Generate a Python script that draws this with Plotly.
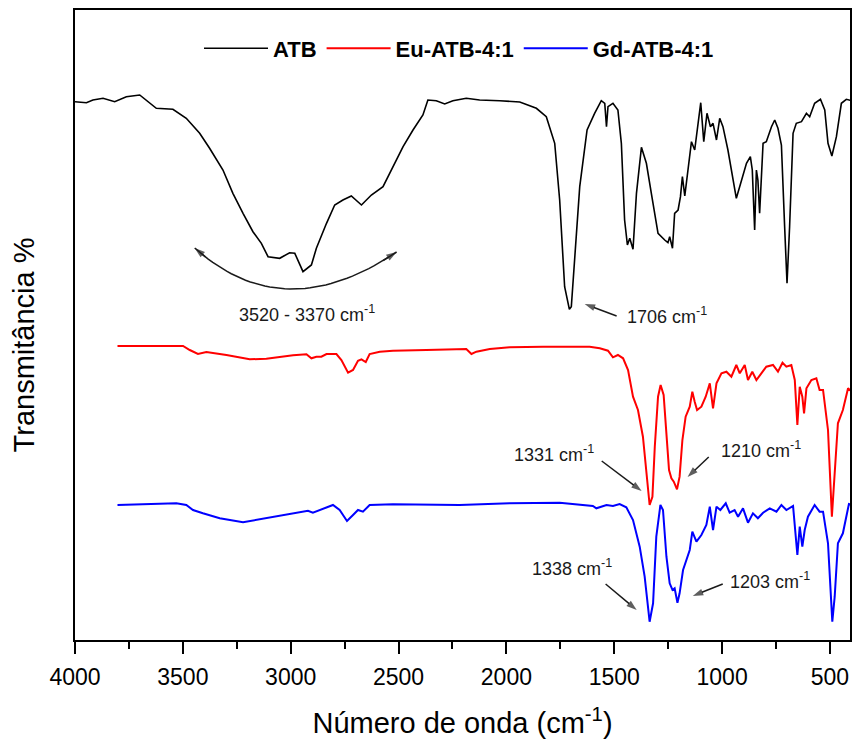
import plotly.graph_objects as go

# ---------------- data ----------------
atb_wn = [4000, 3947, 3917, 3870, 3816, 3762, 3700, 3662, 3623, 3546, 3484, 3422, 3376, 3314,
          3268, 3221, 3175, 3136, 3105, 3051, 3005, 2981, 2943, 2904, 2881, 2834, 2796, 2758,
          2719, 2672, 2626, 2572, 2526, 2479, 2433, 2387, 2364, 2325, 2286, 2248, 2186, 2124,
          2031, 1938, 1861, 1815, 1776, 1753, 1730, 1708, 1699, 1683, 1660, 1626, 1591, 1560,
          1544, 1536, 1529, 1506, 1483, 1467, 1452, 1439, 1428, 1413, 1397, 1374, 1351, 1328,
          1297, 1266, 1251, 1243, 1230, 1220, 1204, 1193, 1184, 1173, 1158, 1142, 1127, 1112,
          1099, 1085, 1070, 1054, 1042, 1026, 1011, 996, 973, 934, 887, 869, 860, 849, 841,
          834, 826, 810, 795, 771, 756, 741, 725, 710, 699, 687, 671, 656, 632, 609, 594, 571,
          544, 524, 509, 491, 470, 447, 424, 400]
atb_t = [538.3, 537.3, 540, 541.7, 538.3, 543.3, 545, 538.3, 531.7, 530.7, 521.7, 506.7, 491.7, 470,
         446.7, 426.7, 408.3, 396.7, 383.3, 381.7, 387.3, 386.7, 368.3, 375, 391.7, 416.7, 435, 440,
         444, 435, 445, 453.3, 473.3, 493.3, 510, 525, 540, 539.3, 536, 539.3, 541.7, 540,
         539.3, 538, 531.7, 523.3, 496.7, 440, 353.3, 330.7, 333.3, 380, 453.3, 510, 526.7, 539.3,
         536.7, 513.3, 533.3, 536.7, 530, 496.7, 420, 395, 401.7, 390.7, 446.7, 492.7, 476.7, 446.7,
         406.7, 400, 397.3, 403.3, 391.7, 426.7, 430, 443.3, 463.3, 444, 473.3, 498.3, 490, 516.7,
         537.3, 498.3, 526.7, 513.3, 516.7, 500, 521.7, 513.3, 490, 441.7, 476.7, 483.3, 470, 410, 470,
         460, 426.7, 496.7, 498.3, 513.3, 520, 511.7, 495, 413.3, 356.7, 413.3, 506.7, 516.7, 518.3, 526.7, 523.3, 536.7,
         540.7, 530, 496.7, 484, 503.3, 536.7, 540.7, 539.3]

eu_wn = [3803, 3499, 3468, 3430, 3391, 3298, 3190, 3113, 2989, 2927, 2904, 2881, 2858, 2834,
         2788, 2765, 2734, 2711, 2688, 2672, 2652, 2634, 2587, 2526, 2371, 2186, 2162, 2139,
         2077, 1985, 1830, 1614, 1567, 1529, 1506, 1483, 1459, 1436, 1413, 1390, 1367, 1351,
         1336, 1323, 1312, 1297, 1285, 1271, 1258, 1246, 1235, 1224, 1209, 1197, 1184, 1169,
         1150, 1138, 1127, 1116, 1096, 1076, 1057, 1042, 1026, 1003, 980, 957, 934, 918, 895,
         880, 860, 841, 818, 795, 764, 741, 720, 702, 679, 663, 651, 640, 628, 620, 609, 586,
         563, 548, 532, 509, 491, 478, 463, 440, 416, 400]
eu_t = [294, 294, 290, 286, 288, 285, 280.7, 281.3, 284.7, 285.7, 281.7, 283.3, 283.3, 286,
        286, 280, 267.3, 270, 279.3, 280.7, 278, 286, 288.3, 289.3, 290, 291, 286, 288.3,
        291, 292.7, 293.3, 293.3, 291.7, 289.3, 282.7, 285, 281.7, 270, 243.3, 230, 203.3, 170,
        135, 143.3, 193.3, 243.3, 255, 245, 210, 170, 161.7, 158.3, 150.7, 163.3, 200, 223.3,
        233.3, 248.3, 238.3, 230, 233.3, 243.3, 256.7, 231.7, 256.7, 266.7, 268.3, 263.3, 275, 266.7, 275,
        260, 268.3, 260, 266.7, 273.3, 275, 268.3, 277.3, 273.3, 275, 260, 215, 253.3, 243.3, 226.7, 251.7, 260,
        261.7, 250, 250, 210, 123.3, 170, 216.7, 230, 251.7, 248.3]

gd_wn = [3803, 3530, 3484, 3453, 3407, 3329, 3221, 3113, 2989, 2920, 2897, 2866, 2804, 2773,
         2739, 2711, 2688, 2665, 2634, 2526, 2217, 1985, 1753, 1599, 1583, 1536, 1506, 1475,
         1444, 1413, 1382, 1359, 1336, 1320, 1305, 1286, 1274, 1258, 1243, 1230, 1220, 1207,
         1197, 1181, 1158, 1150, 1138, 1119, 1096, 1073, 1057, 1042, 1026, 1008, 983, 965, 942,
         926, 903, 880, 857, 834, 810, 779, 748, 725, 702, 671, 651, 640, 628, 617, 602, 571,
         548, 532, 509, 498, 489, 478, 463, 440, 412, 400]
gd_t = [135, 136.7, 135, 130, 126.7, 121.7, 117.7, 121.7, 126.7, 129.3, 127.3, 130, 135, 130,
        119, 125, 130, 128.3, 135, 135.7, 135, 136.7, 137.3, 134, 131.7, 135, 134, 136,
        132.7, 120, 93.3, 63.3, 18.3, 36.7, 103.3, 135, 130, 83.3, 56.7, 50, 51.7, 37.3,
        46.7, 70, 86.7, 90, 108.3, 98.3, 105, 115, 133.3, 110, 133.3, 130, 136.7, 127.3, 130,
        123.3, 131.7, 117.3, 126.7, 121.7, 127.3, 131.7, 128.3, 135, 130, 134, 85, 113.3, 93.3, 110, 123.3, 135,
        128.3, 128.3, 96.7, 56.7, 18.3, 43.3, 96.7, 106.7, 136, 135]

series_names = ["ATB", "Eu-ATB-4:1", "Gd-ATB-4:1"]
x_ticks = [4000, 3500, 3000, 2500, 2000, 1500, 1000, 500]

# peak labels: text, label position, arrow tail, arrow head (data coordinates)
label_text = ["1706 cm<sup>-1</sup>", "1331 cm<sup>-1</sup>", "1210 cm<sup>-1</sup>",
              "1338 cm<sup>-1</sup>", "1203 cm<sup>-1</sup>"]
label_x = [1257, 1781, 821, 1697, 779]
label_y = [325, 187, 191, 73, 60]
arrow_tail_x = [1489, 1558, 1062, 1540, 997]
arrow_tail_y = [324, 179, 183, 56, 56]
arrow_head_x = [1637, 1373, 1160, 1396, 1136]
arrow_head_y = [336, 149, 163, 30, 44]

band_text = "3520 - 3370 cm<sup>-1</sup>"
band_x, band_y = 2926, 327
arc_start = (3445, 392)
arc_ctrl = (3032, 312)
arc_end = (2509, 388)

# ---------------- figure ----------------
FONT = "Arial, Liberation Sans, sans-serif"
INK = "#1a1a1a"
fig = go.Figure()
fig.add_trace(go.Scatter(x=atb_wn, y=atb_t, mode="lines", name=series_names[0],
                         line=dict(color="black", width=1.6)))
fig.add_trace(go.Scatter(x=eu_wn, y=eu_t, mode="lines", name=series_names[1],
                         line=dict(color="#ff0000", width=2)))
fig.add_trace(go.Scatter(x=gd_wn, y=gd_t, mode="lines", name=series_names[2],
                         line=dict(color="#0000ff", width=2)))


def add_arrow(x0, y0, x1, y1):
    fig.add_trace(go.Scatter(
        x=[x0, x1], y=[y0, y1], mode="lines+markers", showlegend=False, hoverinfo="skip",
        line=dict(color=INK, width=1.5),
        marker=dict(symbol="arrow", size=[0, 11], angleref="previous", color=INK,
                    line=dict(width=0))))


for t, lx, ly, tx, ty, hx, hy in zip(label_text, label_x, label_y, arrow_tail_x,
                                     arrow_tail_y, arrow_head_x, arrow_head_y):
    fig.add_annotation(x=lx, y=ly, text=t, showarrow=False,
                       font=dict(family=FONT, size=18, color=INK))
    add_arrow(tx, ty, hx, hy)

# curved double-headed arrow under the broad band (quadratic Bezier)
def bez(t):
    a = (1 - t) ** 2
    b = 2 * (1 - t) * t
    c = t ** 2
    return (a * arc_start[0] + b * arc_ctrl[0] + c * arc_end[0],
            a * arc_start[1] + b * arc_ctrl[1] + c * arc_end[1])

ts = [i / 40 for i in range(41)]
arc_pts = [bez(t) for t in ts]
fig.add_trace(go.Scatter(x=[p[0] for p in arc_pts], y=[p[1] for p in arc_pts], mode="lines",
                         showlegend=False, hoverinfo="skip", line=dict(color=INK, width=1.5)))
p_a, p_b = bez(0.06), bez(0.94)
add_arrow(p_a[0], p_a[1], arc_start[0], arc_start[1])
add_arrow(p_b[0], p_b[1], arc_end[0], arc_end[1])
fig.add_annotation(x=band_x, y=band_y, text=band_text, showarrow=False,
                   font=dict(family=FONT, size=18, color=INK))

# y-axis title
fig.add_annotation(xref="paper", yref="paper", x=-0.066, y=0.469, text="Transmitância %",
                   textangle=-90, showarrow=False, xanchor="center", yanchor="middle",
                   font=dict(family=FONT, size=29, color="black"))

fig.update_layout(
    width=853, height=742,
    margin=dict(l=75, r=3, t=10, b=102),
    paper_bgcolor="white", plot_bgcolor="white",
    font=dict(family=FONT, color="black"),
    showlegend=True,
    legend=dict(orientation="h", x=0.16, y=0.939, xanchor="left", yanchor="middle",
                font=dict(family=FONT, size=22, color="black", weight="bold"),
                bgcolor="rgba(0,0,0,0)", itemwidth=64, tracegroupgap=0),
    xaxis=dict(range=[4000, 407], showgrid=False, zeroline=False,
               showline=True, linecolor="black", linewidth=2, mirror=True,
               tickmode="array", tickvals=x_ticks, ticktext=[str(v) for v in x_ticks],
               ticks="outside", ticklen=12, tickwidth=2, tickcolor="black",
               ticklabelstandoff=3,
               tickfont=dict(family=FONT, size=23, color="black"),
               minor=dict(dtick=250, tick0=0, ticks="outside", ticklen=7, tickwidth=2, tickcolor="black"),
               title=dict(text="Número de onda (cm<sup>-1</sup>)", standoff=24,
                          font=dict(family=FONT, size=29, color="black")),
               automargin=False),
    yaxis=dict(range=[0, 630], showgrid=False, zeroline=False, showticklabels=False,
               showline=True, linecolor="black", linewidth=2, mirror=True, ticks="",
               automargin=False),
)

fig.write_html("out.html")
